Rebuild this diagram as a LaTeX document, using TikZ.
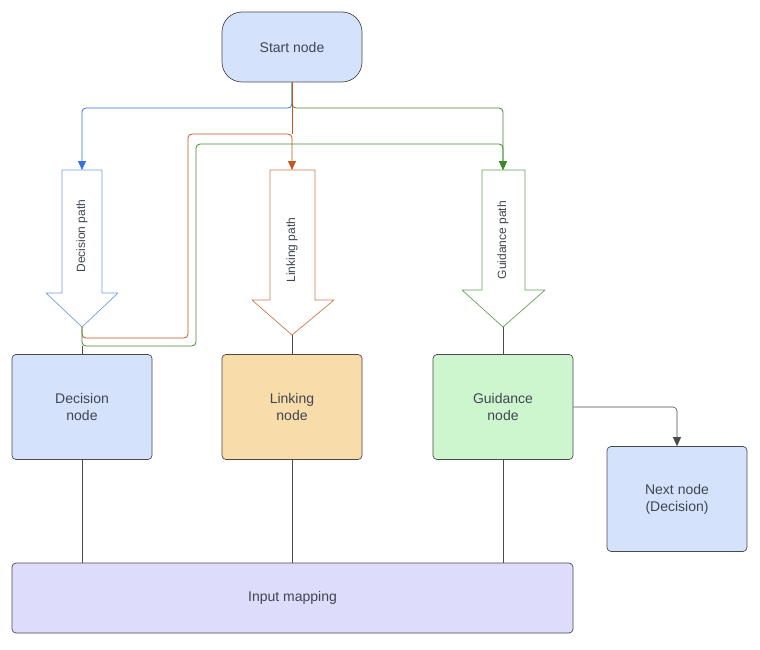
\documentclass[tikz,border=0pt]{standalone}
\usepackage{fontspec}
\setmainfont{Liberation Sans}
\usetikzlibrary{arrows.meta}
\definecolor{txt}{HTML}{3F4552}
\definecolor{edge}{HTML}{4A4A4A}
\definecolor{decfill}{HTML}{D4E3FB}
\definecolor{linkfill}{HTML}{F8DCAA}
\definecolor{guidefill}{HTML}{CEF6CE}
\definecolor{inputfill}{HTML}{DEDCFB}
\definecolor{bluepath}{HTML}{3371E0}
\definecolor{orangepath}{HTML}{C4561F}
\definecolor{greenpath}{HTML}{3B8A2A}
\begin{document}
\begin{tikzpicture}[x=1pt,y=-1pt,
  box/.style = {draw=edge, rounded corners=4pt, line width=0.7pt,
    text=txt, font=\fontsize{14}{17}\selectfont, align=center,
    minimum width=140pt, minimum height=105pt, inner sep=0pt},
  link/.style = {draw=edge, line width=0.6pt},
  flow/.style = {line width=0.8pt, rounded corners=4pt,
    -{Triangle[length=9pt,width=8pt]}},
  back/.style = {line width=0.8pt, rounded corners=4pt},
  bigarrow/.style = {fill=white, line width=0.7pt, line join=round},
  pathtext/.style = {rotate=90, text=txt, font=\fontsize{12}{14}\selectfont}
  ]
  \useasboundingbox (0,0) rectangle (760,650);

  % nodes
  \node[box, fill=decfill, rounded corners=20pt, minimum height=70pt] (start) at (292,47) {Start node};
  \node[box, fill=decfill] (decision) at (82,407) {Decision\\node};
  \node[box, fill=linkfill] (linking) at (292,407) {Linking\\node};
  \node[box, fill=guidefill] (guidance) at (503,407) {Guidance\\node};
  \node[box, fill=decfill] (next) at (677,499) {Next node\\(Decision)};
  \node[box, fill=inputfill, minimum width=561pt, minimum height=70pt] (input) at (292.5,598) {Input mapping};

  % path arrows
  \draw[bigarrow, draw=bluepath!70] (62,170) -- (102,170) -- (102,293) -- (118,293) -- (82,327) -- (46,293) -- (62,293) -- cycle;
  \draw[bigarrow, draw=orangepath!80] (270,170) -- (315,170) -- (315,300) -- (334,300) -- (292,335) -- (252,300) -- (270,300) -- cycle;
  \draw[bigarrow, draw=greenpath!80] (482,170) -- (525,170) -- (525,290) -- (545,290) -- (503,327) -- (462,290) -- (482,290) -- cycle;
  \node[pathtext] (dectext) at (82,236) {Decision path};
  \node[pathtext] (linktext) at (292,250) {Linking path};
  \node[pathtext] (guidetext) at (503,240) {Guidance path};
  \coordinate (dectop) at (82,170);
  \coordinate (linktop) at (292,170);
  \coordinate (guidetop) at (503,170);
  \coordinate (dectip) at (82,327);
  \coordinate (linktip) at (292,335);
  \coordinate (guidetip) at (503,327);

  % connectors
  \draw[flow, bluepath] (start.south) -- (292,108) -- (82,108) -- (dectop);
  \draw[flow, greenpath] (start.south) -- (292,108) -- (503,108) -- (guidetop);
  \draw[flow, orangepath] (dectip) -- (82,338) -- (188,338) -- (188,134) -- (292,134) -- (linktop);
  \draw[flow, greenpath] (dectip) -- (82,346) -- (196,346) -- (196,144) -- (503,144) -- (guidetop);
  \draw[link, orangepath] (start.south) -- (292,134);
  \draw[link] (dectip) ++(0,19) -- (decision.north);
  \draw[link] (linktip) -- (linking.north);
  \draw[link] (guidetip) -- (guidance.north);
  \draw[link] (decision.south) -- (decision.south |- input.north);
  \draw[link] (linking.south) -- (linking.south |- input.north);
  \draw[link] (guidance.south) -- (guidance.south |- input.north);
  \draw[link, rounded corners=4pt, -{Triangle[length=9pt,width=8pt]}] (guidance.east) -- (677,407) -- (next.north);
\end{tikzpicture}
\end{document}
